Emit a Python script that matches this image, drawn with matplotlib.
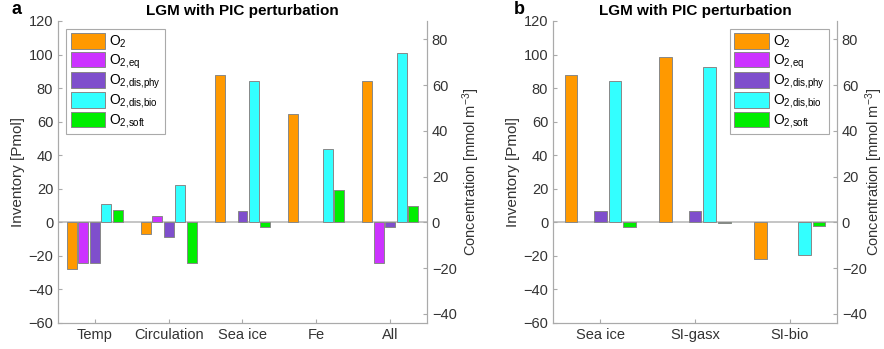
import matplotlib
matplotlib.use('Agg')
import matplotlib.pyplot as plt
import numpy as np

plt.rcParams['font.family'] = ['Liberation Sans', 'DejaVu Sans']
plt.rcParams['mathtext.default'] = 'regular'
plt.rcParams['font.size'] = 10

SERIES = [r'O$_2$', r'O$_{2{,}eq}$', r'O$_{2{,}dis{,}phy}$', r'O$_{2{,}dis{,}bio}$', r'O$_{2{,}soft}$']
COLORS = ['#ff9900', '#cc33ff', '#7f4fcc', '#33ffff', '#00ee00']

cats_a = ['Temp', 'Circulation', 'Sea ice', 'Fe', 'All']
o2_a = [-28, -7, 88, 64.5, 84.5]
eq_a = [-24.5, 4, 0, 0, -24.5]
phy_a = [-24, -9, 7, 0, -3]
bio_a = [11, 22.5, 84.5, 44, 101]
soft_a = [7.5, -24.5, -3, 19.5, 9.5]

cats_b = ['Sea ice', 'SI-gasx', 'SI-bio']
o2_b = [88, 98.5, -22]
eq_b = [0, 0, 0]
phy_b = [7, 7, 0]
bio_b = [84.5, 92.5, -19.5]
soft_b = [-3, -0.3, -2]

CONV = 0.734  # Pmol -> mmol m^-3
EDGE = '#888888'
SPINE = '#aaaaaa'
TXT = '#333333'


def draw_panel(ax, cats, data, letter, legend_loc, rlabel_x):
    x = np.arange(1, len(cats) + 1)
    step = 0.155
    for i, (vals, col, lab) in enumerate(zip(data, COLORS, SERIES)):
        edges = [EDGE if v != 0 else 'none' for v in vals]
        ax.bar(x + (i - 2) * step, vals, width=0.135, color=col,
               edgecolor=edges, linewidth=0.7, label=lab, zorder=2)
    ax.axhline(0, color='#bbbbbb', linewidth=1.2, zorder=1)
    ax.set_xlim(0.5, len(cats) + 0.5)
    ax.set_ylim(-60, 120)
    ax.set_yticks(np.arange(-60, 121, 20))
    ax.set_xticks(x)
    ax.set_xticklabels(cats)
    ax.set_ylabel('Inventory [Pmol]', color=TXT, fontsize=11, labelpad=2)
    ax.set_title('LGM with PIC perturbation', fontweight='bold', fontsize=11, pad=4)
    ax.tick_params(direction='in', length=3, colors=SPINE, labelcolor=TXT, labelsize=10.5)
    ax.spines['top'].set_visible(False)
    for s in ['left', 'bottom', 'right']:
        ax.spines[s].set_color(SPINE)
    ax.text(-0.1, 1.01, letter, transform=ax.transAxes, fontweight='bold',
            fontsize=13, va='bottom', ha='right')
    leg = ax.legend(loc=legend_loc, fontsize=10, handlelength=2.5, handleheight=1.35,
                    labelspacing=0.1, handletextpad=0.3, borderpad=0.3,
                    fancybox=False, edgecolor='#aaaaaa', framealpha=1,
                    borderaxespad=0.6)
    leg.get_frame().set_linewidth(0.8)
    for h in leg.legend_handles:
        h.set_edgecolor(EDGE)

    ax2 = ax.twinx()
    ax2.set_ylim(-60 * CONV, 120 * CONV)
    ax2.set_yticks(np.arange(-40, 81, 20))
    ax2.set_ylabel(r'Concentration [mmol m$^{-3}$]', color=TXT, fontsize=10.5)
    ax2.yaxis.set_label_coords(rlabel_x, 0.5)
    ax2.tick_params(direction='in', length=3, colors=SPINE, labelcolor=TXT, labelsize=10.5)
    ax2.spines['top'].set_visible(False)
    for s in ['left', 'bottom', 'right']:
        ax2.spines[s].set_color(SPINE)


fig = plt.figure(figsize=(8.84, 3.49), dpi=100)
ax_a = fig.add_axes([58 / 884, 26 / 349, 369 / 884, 302 / 349])
ax_b = fig.add_axes([553 / 884, 26 / 349, 284 / 884, 302 / 349])

draw_panel(ax_a, cats_a, [o2_a, eq_a, phy_a, bio_a, soft_a], 'a', 'upper left',
           1 + 33 / 369)
draw_panel(ax_b, cats_b, [o2_b, eq_b, phy_b, bio_b, soft_b], 'b', 'upper right',
           1 + 26 / 284)

fig.savefig('out.png', dpi=100)
